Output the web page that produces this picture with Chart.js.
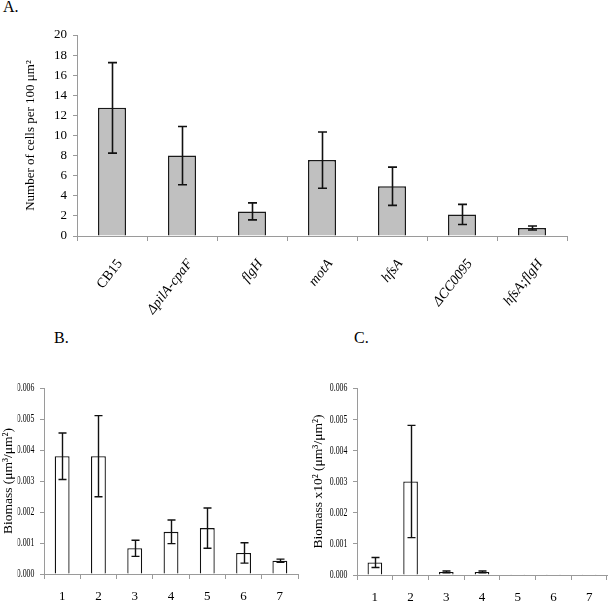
<!DOCTYPE html>
<html><head><meta charset="utf-8">
<script src="https://cdn.jsdelivr.net/npm/chart.js@4.4.0/dist/chart.umd.min.js"></script>
<style>
html,body{margin:0;padding:0;background:#fff;width:608px;height:602px;overflow:hidden;position:relative;font-family:"Liberation Serif",serif;}
canvas{position:absolute;}
.pl{position:absolute;font-family:"Liberation Serif",serif;font-size:16px;color:#000;}
</style></head><body>
<div class="pl" style="left:3px;top:-2px">A.</div>
<div class="pl" style="left:54px;top:329px">B.</div>
<div class="pl" style="left:354px;top:329px">C.</div>
<canvas id="cA" width="608" height="330" style="left:0;top:0"></canvas>
<canvas id="cB" width="300" height="272" style="left:0;top:330px"></canvas>
<canvas id="cC" width="308" height="272" style="left:300px;top:330px"></canvas>
<script>
// ---- data ----
const catsA = ['CB15', 'ΔpilA-cpaF', 'flgH', 'motA', 'hfsA', 'ΔCC0095', 'hfsA;flgH'];
const valsA = [12.75, 8.0, 2.45, 7.55, 4.95, 2.15, 0.8];
const sdA   = [4.5, 2.9, 0.85, 2.8, 1.9, 1.0, 0.2];
const yTicksA = [0, 2, 4, 6, 8, 10, 12, 14, 16, 18, 20];

const catsBC = ['1', '2', '3', '4', '5', '6', '7'];
const valsB = [0.0038, 0.0038, 0.00083, 0.00136, 0.00148, 0.00068, 0.00043];
const sdB   = [0.00075, 0.00131, 0.00026, 0.00038, 0.00065, 0.00033, 0.00005];
const valsC = [0.0004, 0.003, 0.0001, 0.0001, 0.000008, 0.000008, 0.000008];
const sdC   = [0.00016, 0.0018, 0.00003, 0.00003, 0, 0, 0];
const yTicksBC = [0, 0.001, 0.002, 0.003, 0.004, 0.005, 0.006];

const SERIF = '"Liberation Serif", "Times New Roman", serif';
Chart.defaults.font.family = SERIF;
Chart.defaults.color = '#000';
Chart.defaults.animation = false;

const errPlugin = {
  id: 'err',
  afterDatasetsDraw(chart, args, opts) {
    const meta = chart.getDatasetMeta(0);
    const ys = chart.scales.y;
    const vals = chart.data.datasets[0].data;
    const sd = opts.sd;
    const ctx = chart.ctx;
    ctx.save();
    ctx.strokeStyle = '#111';
    ctx.lineWidth = opts.lw || 1.5;
    meta.data.forEach((bar, i) => {
      if (!sd[i]) return;
      const x = Math.round(bar.x) + 0.5;
      const yHi = ys.getPixelForValue(vals[i] + sd[i]);
      const yLo = ys.getPixelForValue(vals[i] - sd[i]);
      const w = opts.cap;
      ctx.beginPath();
      ctx.moveTo(x, yHi); ctx.lineTo(x, yLo);
      ctx.moveTo(x - w, yHi); ctx.lineTo(x + w, yHi);
      ctx.moveTo(x - w, yLo); ctx.lineTo(x + w, yLo);
      ctx.stroke();
    });
    ctx.restore();
  }
};

// horizontally condenses the y tick labels (narrow typeface look), drawn by the scale itself
const condensePlugin = {
  id: 'condense',
  afterLayout(chart, args, opts) {
    const s = chart.scales.y;
    if (!opts.f || s._condensed) return;
    const orig = s.drawLabels.bind(s);
    s.drawLabels = function (area) {
      const ctx = this.ctx;
      ctx.save();
      ctx.translate(this.right, 0); ctx.scale(opts.f, 1); ctx.translate(-this.right, 0);
      orig(area);
      ctx.restore();
    };
    s._condensed = true;
  }
};

function yScale(ticksArr, width, titleText, titleFont, titlePad, tickFont, tickPad, fmt) {
  return {
    type: 'linear',
    min: ticksArr[0], max: ticksArr[ticksArr.length - 1],
    afterBuildTicks: (s) => { s.ticks = ticksArr.map(v => ({ value: v })); },
    afterFit: (s) => { s.width = width; },
    border: { color: '#9a9a9a', width: 1 },
    grid: { drawOnChartArea: false, tickLength: 4, color: '#9a9a9a' },
    ticks: { font: tickFont, padding: tickPad, color: '#000', callback: fmt },
    title: { display: true, text: titleText, font: titleFont, padding: { top: titlePad, bottom: 0 }, color: '#000' }
  };
}

// ---- Chart A ----
new Chart(document.getElementById('cA'), {
  type: 'bar',
  data: { labels: catsA, datasets: [{ data: valsA, backgroundColor: '#c0c0c0', borderColor: '#1a1a1a', borderWidth: 1.5, barPercentage: 0.4, categoryPercentage: 1 }] },
  options: {
    responsive: false,
    layout: { padding: { top: 35, right: 41, left: 0, bottom: 0 } },
    plugins: { legend: { display: false }, tooltip: { enabled: false }, err: { sd: sdA, cap: 4.5, lw: 1.6 }, condense: { f: 0 } },
    scales: {
      x: {
        afterFit: (s) => { s.height = 330 - 236; },
        border: { color: '#9a9a9a', width: 1 },
        grid: { drawOnChartArea: false, tickLength: 5, color: '#9a9a9a', offset: true },
        ticks: {
          autoSkip: false, minRotation: 52, maxRotation: 52, padding: 15, labelOffset: 8, color: '#000',
          font: (c) => ({ family: SERIF, size: 14, style: c.index === 0 ? 'normal' : 'italic' })
        }
      },
      y: yScale(yTicksA, 77, 'Number of cells per 100 μm²', { family: SERIF, size: 13 }, 23, { family: SERIF, size: 13 }, 6, (v) => v)
    }
  },
  plugins: [errPlugin, condensePlugin]
});

function bc(id, vals, sd, title, titlePad, yw, padR, xh) {
  new Chart(document.getElementById(id), {
    type: 'bar',
    data: { labels: catsBC, datasets: [{ data: vals, backgroundColor: '#fff', borderColor: '#111', borderWidth: 1.3, barPercentage: 0.41, categoryPercentage: 1 }] },
    options: {
      responsive: false,
      layout: { padding: { top: 58, right: padR, left: 0, bottom: 0 } },
      plugins: { legend: { display: false }, tooltip: { enabled: false }, err: { sd: sd, cap: 4, lw: 1.4 }, condense: { f: 0.6 } },
      scales: {
        x: {
          afterFit: (s) => { s.height = xh; },
          border: { color: '#9a9a9a', width: 1 },
          grid: { drawOnChartArea: false, tickLength: 5, color: '#9a9a9a', offset: true },
          ticks: { autoSkip: false, maxRotation: 0, padding: 10, color: '#000', font: { family: SERIF, size: 13 } }
        },
        y: yScale(yTicksBC, yw, title, { family: SERIF, size: 13.5 }, titlePad, { family: SERIF, size: 13 }, 12, (v) => Number(v).toFixed(3))
      }
    },
    plugins: [errPlugin, condensePlugin]
  });
}
bc('cB', valsB, sdB, 'Biomass (μm³/μm²)', 0, 44, 2, 28);
bc('cC', valsC, sdC, 'Biomass x10² (μm³/μm²)', 10, 57, 1, 27);
</script>
</body></html>
